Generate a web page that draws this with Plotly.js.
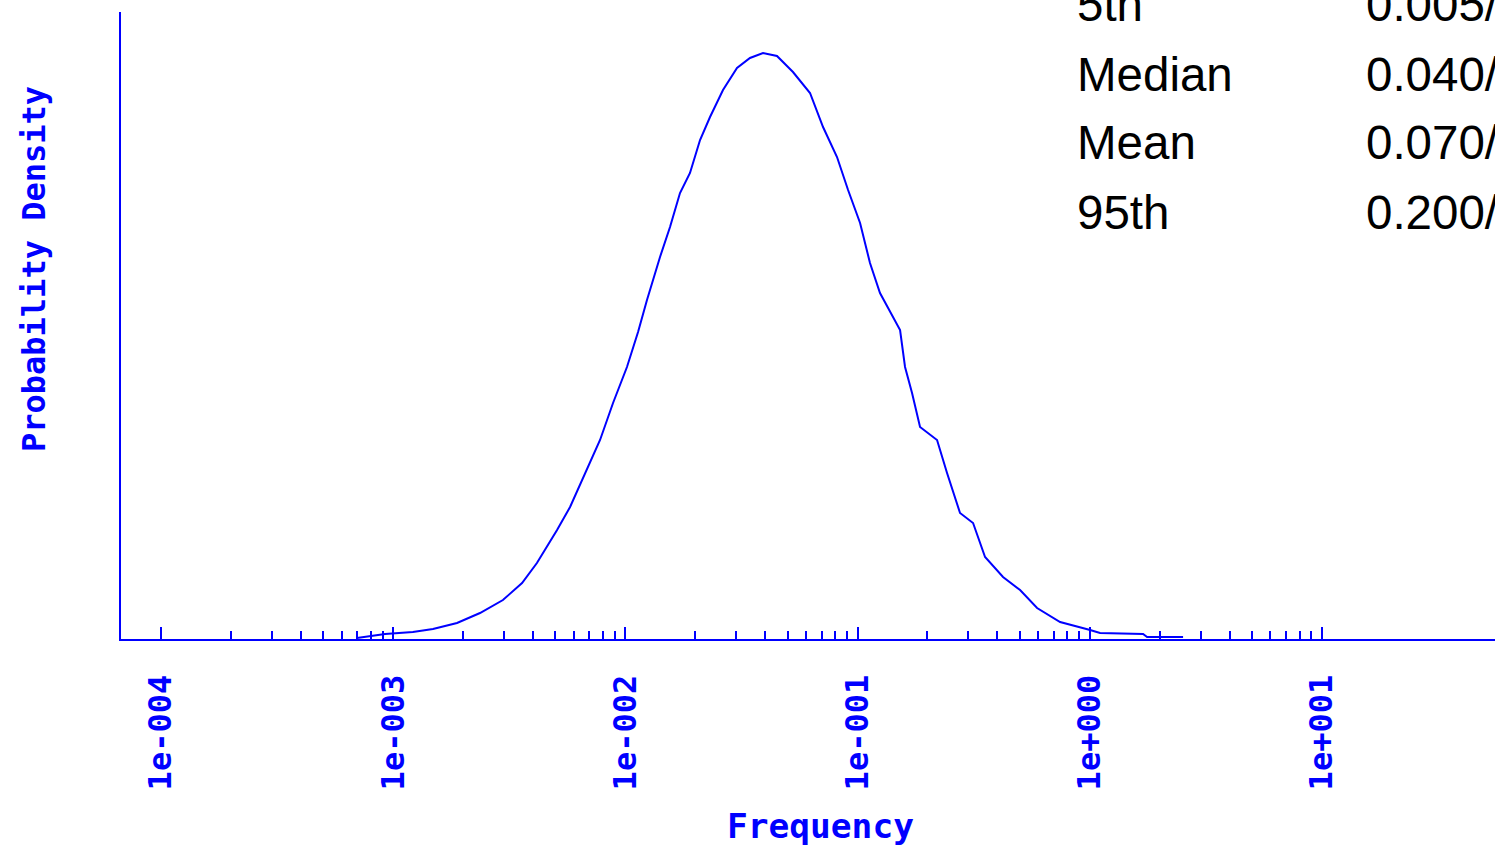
<!DOCTYPE html>
<html>
<head>
<meta charset="utf-8">
<script src="https://cdn.plot.ly/plotly-3.0.1.min.js"></script>
<style>
html,body{margin:0;padding:0;background:#fff;}
#chart{width:1495px;height:847px;}
</style>
</head>
<body>
<div id="chart"></div>
<script>
// Frequency values (log-scaled x axis)
var frequency = [
  6.98e-4, 9.23e-4, 1.216e-3, 1.484e-3, 1.884e-3, 2.366e-3, 2.97e-3, 3.59e-3,
  4.16e-3, 5.08e-3, 5.78e-3, 6.84e-3, 7.78e-3, 8.85e-3, 1.016e-2, 1.134e-2,
  1.239e-2, 1.410e-2, 1.557e-2, 1.719e-2, 1.898e-2, 2.097e-2, 2.315e-2, 2.633e-2,
  3.025e-2, 3.441e-2, 3.915e-2, 4.497e-2, 5.27e-2, 6.24e-2, 7.10e-2, 8.155e-2,
  9.10e-2, 0.1025, 0.1131, 0.1249, 0.1421, 0.1524, 0.1601, 0.1716,
  0.1858, 0.2199, 0.2428, 0.2762, 0.3143, 0.3540, 0.423, 0.501,
  0.593, 0.745, 1.003, 1.107, 1.696, 1.765, 2.522
];
// Probability density (relative units)
var density = [
  1, 5, 7, 10, 16, 26, 39, 56,
  76, 109, 132, 169, 199, 236, 272, 307,
  339, 382, 412, 446, 466, 499, 522, 549,
  571, 581, 586, 583, 567, 546, 512, 482,
  449, 416, 376, 346, 322, 309, 272, 246,
  212, 199, 166, 126, 116, 82, 62, 49,
  31, 17, 9, 6, 5, 2, 2
];
var majorTickVals = [1e-4, 1e-3, 1e-2, 1e-1, 1e0, 1e1];
var majorTickText = ['1e-004', '1e-003', '1e-002', '1e-001', '1e+000', '1e+001'];
var statLabels = ['5th', 'Median', 'Mean', '95th'];
var statValues = ['0.005/', '0.040/', '0.070/', '0.200/'];

var BLUE = '#0000ff';
var minorTickVals = [];
for (var d = 0; d < majorTickVals.length - 1; d++) {
  for (var m = 2; m <= 9; m++) minorTickVals.push(m * majorTickVals[d]);
}

var trace = {
  x: frequency,
  y: density,
  type: 'scatter',
  mode: 'lines',
  line: {color: BLUE, width: 2},
  hoverinfo: 'x+y'
};

// stats block positions (pixel rows converted to paper coords)
var rowCenters = [4.4, 74.4, 142.9, 212.9];
var annotations = [];
var plotTop = 12, plotBottom = 639, plotLeft = 121, plotW = 1374;
function py(p) { return (plotBottom - p) / (plotBottom - plotTop); }
function px(p) { return (p - plotLeft) / plotW; }
for (var i = 0; i < statLabels.length; i++) {
  annotations.push({
    xref: 'paper', yref: 'paper', x: px(1075), y: py(rowCenters[i]),
    xanchor: 'left', yanchor: 'middle', showarrow: false,
    text: statLabels[i],
    font: {family: 'Liberation Sans, Arial, sans-serif', size: 47.5, color: '#000'}
  });
  annotations.push({
    xref: 'paper', yref: 'paper', x: px(1364), y: py(rowCenters[i]),
    xanchor: 'left', yanchor: 'middle', showarrow: false,
    text: statValues[i],
    font: {family: 'Liberation Sans, Arial, sans-serif', size: 47.5, color: '#000'}
  });
}
annotations.push({
  xref: 'paper', yref: 'paper', x: px(34), y: py(269),
  xanchor: 'center', yanchor: 'middle', showarrow: false, textangle: -90,
  text: 'Probability Density',
  font: {family: 'DejaVu Sans Mono, monospace', size: 32, color: BLUE, weight: 'bold'}
});
annotations.push({
  xref: 'paper', yref: 'paper', x: px(820), y: py(826),
  xanchor: 'center', yanchor: 'middle', showarrow: false,
  text: 'Frequency',
  font: {family: 'DejaVu Sans Mono, monospace', size: 34.5, color: BLUE, weight: 'bold'}
});

var layout = {
  width: 1495,
  height: 847,
  margin: {l: 121, r: 0, t: 12, b: 208, pad: 0},
  paper_bgcolor: '#ffffff',
  plot_bgcolor: '#ffffff',
  showlegend: false,
  xaxis: {
    type: 'log',
    range: [-4.172, 1.745],
    showgrid: false,
    zeroline: false,
    showline: true,
    linecolor: BLUE,
    linewidth: 2,
    ticks: 'inside',
    ticklen: 12,
    tickwidth: 2,
    tickcolor: BLUE,
    tickmode: 'array',
    tickvals: majorTickVals,
    ticktext: majorTickText,
    tickangle: -90,
    ticklabelstandoff: 21,
    tickfont: {family: 'DejaVu Sans Mono, monospace', size: 32, color: BLUE, weight: 'bold'},
    minor: {
      tickmode: 'array',
      tickvals: minorTickVals,
      ticks: 'inside',
      ticklen: 8,
      tickwidth: 2,
      tickcolor: BLUE,
      showgrid: false
    }
  },
  yaxis: {
    range: [0, 627],
    showgrid: false,
    zeroline: false,
    showline: true,
    linecolor: BLUE,
    linewidth: 2,
    ticks: '',
    showticklabels: false
  },
  annotations: annotations
};

Plotly.newPlot('chart', [trace], layout, {displayModeBar: false, staticPlot: true});
</script>
</body>
</html>
